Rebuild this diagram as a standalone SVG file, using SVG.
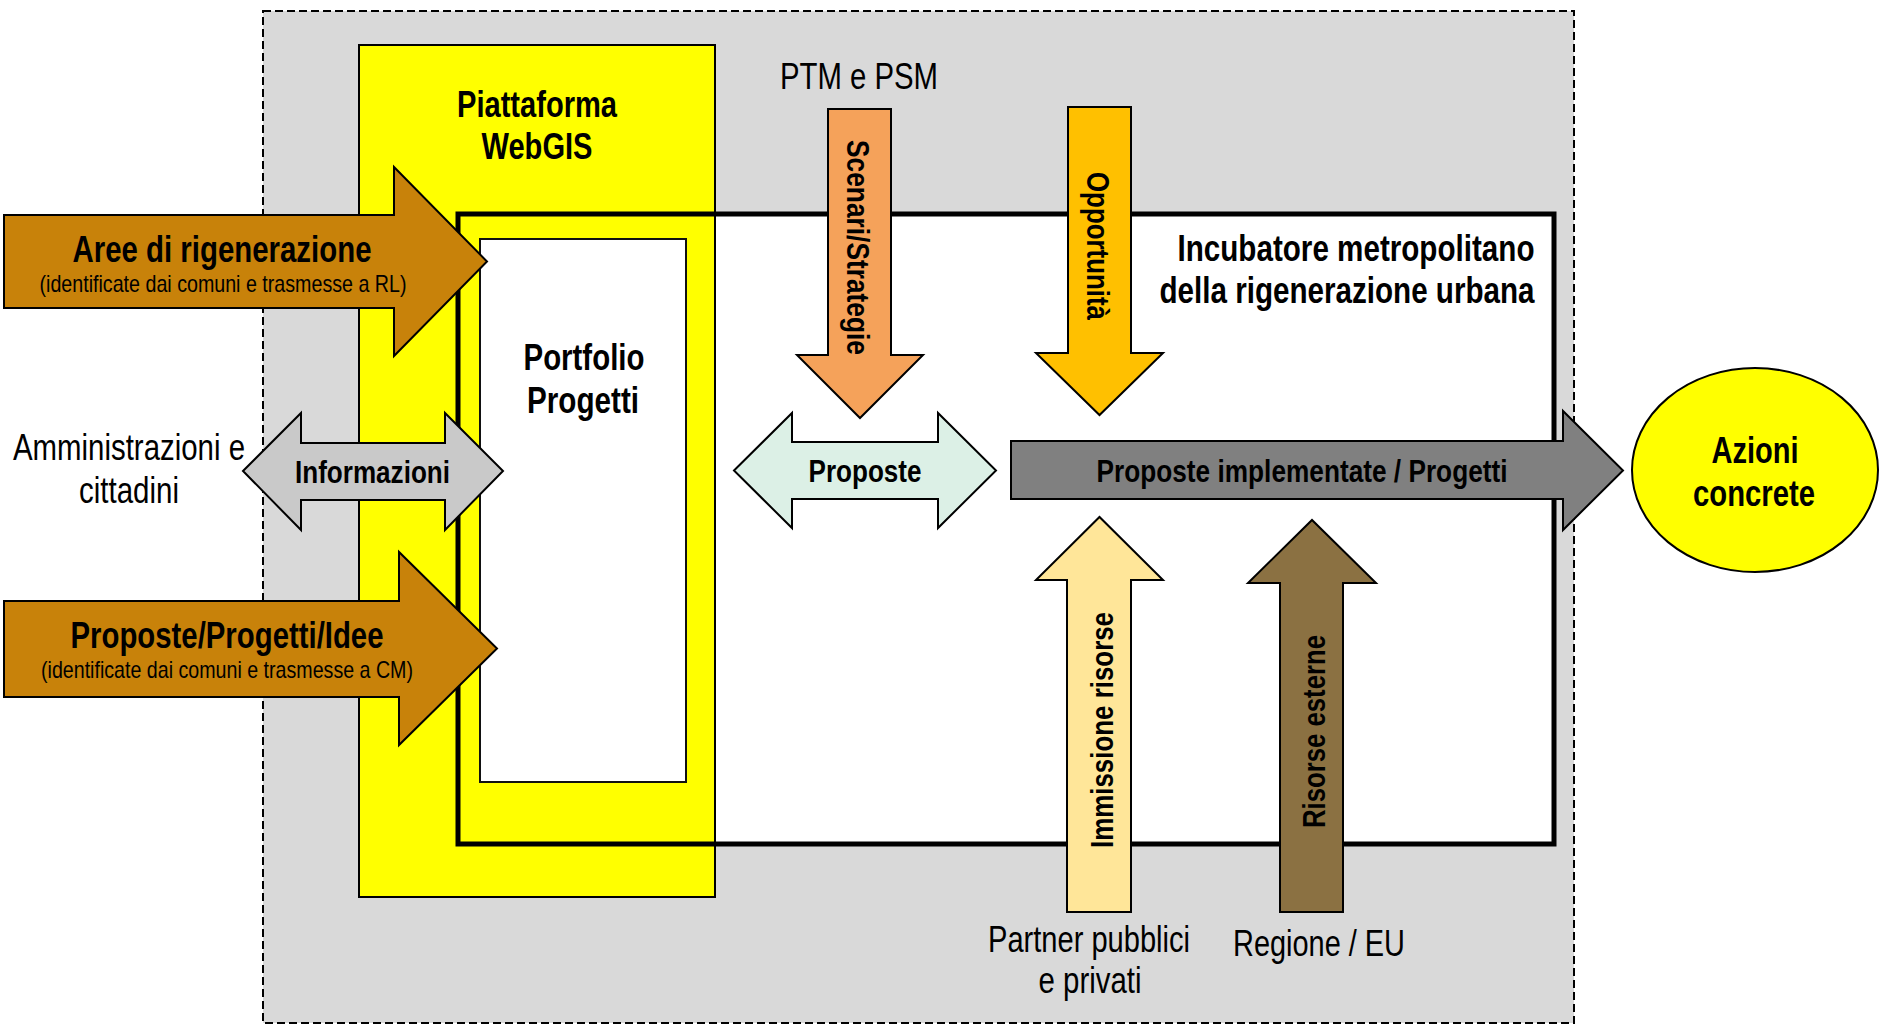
<svg xmlns="http://www.w3.org/2000/svg" width="1883" height="1030" viewBox="0 0 1883 1030">
<style>
text{font-family:"Liberation Sans Narrow","Arial Narrow","Liberation Sans",Arial,sans-serif;fill:#000;text-anchor:middle}
.r{font-size:36px}
.b{font-size:36px;font-weight:bold}
.bl{font-size:32px;font-weight:bold}
.s{font-size:24px}
.arr{stroke:#000;stroke-width:2;stroke-linejoin:miter}
</style>
<rect width="1883" height="1030" fill="#fff"/>
<g id="cornice">
<rect x="263" y="11" width="1311" height="1012" fill="#D9D9D9" stroke="#000" stroke-width="2" stroke-dasharray="8 4"/>
</g>
<g id="incubatore">
<rect x="458" y="214" width="1096" height="630" fill="#fff"/>
</g>
<g id="piattaforma">
<rect x="359" y="45" width="356" height="852" fill="#FFFF00" stroke="#000" stroke-width="2"/>
<text class="b" x="537" y="117" textLength="160" lengthAdjust="spacingAndGlyphs">Piattaforma</text>
<text class="b" x="537" y="159" textLength="111" lengthAdjust="spacingAndGlyphs">WebGIS</text>
</g>
<g id="incubatore-bordo">
<rect x="458" y="214" width="1096" height="630" fill="none" stroke="#000" stroke-width="5"/>
<text class="b" x="1356" y="261" textLength="357" lengthAdjust="spacingAndGlyphs">Incubatore metropolitano</text>
<text class="b" x="1347" y="303" textLength="375" lengthAdjust="spacingAndGlyphs">della rigenerazione urbana</text>
</g>
<g id="portfolio">
<rect x="480" y="239" width="206" height="543" fill="#fff" stroke="#111" stroke-width="2"/>
<text class="b" x="584" y="370" textLength="121" lengthAdjust="spacingAndGlyphs">Portfolio</text>
<text class="b" x="583" y="413" textLength="112" lengthAdjust="spacingAndGlyphs">Progetti</text>
</g>
<g id="azioni">
<ellipse cx="1755" cy="470" rx="123" ry="102" fill="#FFFF00" stroke="#000" stroke-width="2"/>
<text class="b" x="1755" y="463" textLength="87" lengthAdjust="spacingAndGlyphs">Azioni</text>
<text class="b" x="1754" y="506" textLength="122" lengthAdjust="spacingAndGlyphs">concrete</text>
</g>
<g id="etichette">
<text class="r" x="129" y="460" textLength="232" lengthAdjust="spacingAndGlyphs">Amministrazioni e</text>
<text class="r" x="129" y="503" textLength="100" lengthAdjust="spacingAndGlyphs">cittadini</text>
<text class="r" x="859" y="89" textLength="158" lengthAdjust="spacingAndGlyphs">PTM e PSM</text>
<text class="r" x="1089" y="952" textLength="202" lengthAdjust="spacingAndGlyphs">Partner pubblici</text>
<text class="r" x="1090" y="993" textLength="103" lengthAdjust="spacingAndGlyphs">e privati</text>
<text class="r" x="1319" y="956" textLength="172" lengthAdjust="spacingAndGlyphs">Regione / EU</text>
</g>
<g id="connettori">
<g id="aree">
<polygon class="arr" fill="#C8820A" points="4,215 394,215 394,167 487,261.5 394,356 394,308 4,308"/>
<text class="b" x="222" y="262" textLength="299" lengthAdjust="spacingAndGlyphs">Aree di rigenerazione</text>
<text class="s" x="223" y="292" textLength="367" lengthAdjust="spacingAndGlyphs">(identificate dai comuni e trasmesse a RL)</text>
</g>
<g id="proposte-idee">
<polygon class="arr" fill="#C8820A" points="4,601 399,601 399,552 497,648.5 399,745 399,697 4,697"/>
<text class="b" x="227" y="648" textLength="313" lengthAdjust="spacingAndGlyphs">Proposte/Progetti/Idee</text>
<text class="s" x="227" y="678" textLength="372" lengthAdjust="spacingAndGlyphs">(identificate dai comuni e trasmesse a CM)</text>
</g>
<g id="informazioni">
<polygon class="arr" fill="#C9C9C9" points="243,471 301,413 301,443 445,443 445,413 503,471 445,530 445,500 301,500 301,530"/>
<text class="bl" x="372.5" y="483" textLength="155" lengthAdjust="spacingAndGlyphs">Informazioni</text>
</g>
<g id="proposte">
<polygon class="arr" fill="#DCF0E6" points="734,470.5 792,413 792,442 938,442 938,413 996,470.5 938,528 938,499 792,499 792,528"/>
<text class="bl" x="865" y="482" textLength="113" lengthAdjust="spacingAndGlyphs">Proposte</text>
</g>
<g id="scenari">
<polygon class="arr" fill="#F5A25A" points="828,109 891,109 891,355 923,355 860,418 797,355 828,355"/>
<text class="bl" transform="translate(847,247.5) rotate(90)" textLength="215" lengthAdjust="spacingAndGlyphs">Scenari/Strategie</text>
</g>
<g id="opportunita">
<polygon class="arr" fill="#FFC000" points="1068,107 1131,107 1131,353 1163,353 1099.5,415 1036,353 1068,353"/>
<text class="bl" transform="translate(1087,246) rotate(90)" textLength="148" lengthAdjust="spacingAndGlyphs">Opportunità</text>
</g>
<g id="implementate">
<polygon class="arr" fill="#808080" points="1011,441 1563,441 1563,411 1623,470.5 1563,530 1563,499 1011,499"/>
<text class="bl" x="1302" y="482" textLength="411" lengthAdjust="spacingAndGlyphs">Proposte implementate / Progetti</text>
</g>
<g id="immissione">
<polygon class="arr" fill="#FFE699" points="1067,912 1131,912 1131,580 1163,580 1099.5,517 1036,580 1067,580"/>
<text class="bl" transform="translate(1113,730) rotate(-90)" textLength="236" lengthAdjust="spacingAndGlyphs">Immissione risorse</text>
</g>
<g id="esterne">
<polygon class="arr" fill="#8B7142" points="1280,912 1343,912 1343,583 1376,583 1312,520 1248,583 1280,583"/>
<text class="bl" transform="translate(1325,731.5) rotate(-90)" textLength="193" lengthAdjust="spacingAndGlyphs">Risorse esterne</text>
</g>
</g>
</svg>
